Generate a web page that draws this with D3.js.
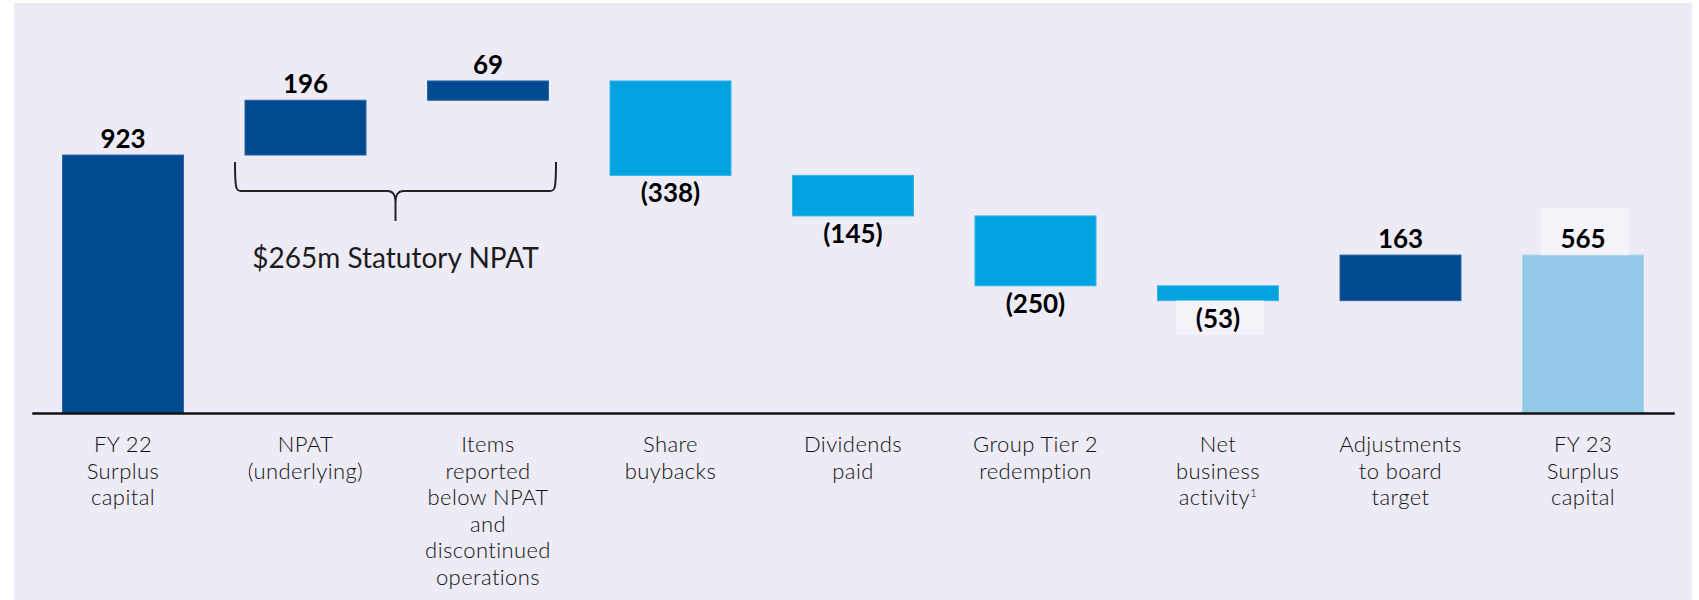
<!DOCTYPE html>
<html>
<head>
<meta charset="utf-8">
<script src="https://cdn.jsdelivr.net/npm/d3@7"></script>
<style>
  html, body { margin: 0; padding: 0; background: #ffffff; }
  svg { display: block; }
</style>
</head>
<body>
<svg id="chart" width="1699" height="600"></svg>
<script>
// Surplus capital bridge, FY22 to FY23 ($m)
const categories = [
  "FY22 Surplus capital", "NPAT (underlying)", "Items reported below NPAT and discontinued operations",
  "Share buybacks", "Dividends paid", "Group Tier 2 redemption",
  "Net business activity", "Adjustments to board target", "FY23 Surplus capital"
];
const categoryLines = [
  ["FY 22", "Surplus", "capital"],
  ["NPAT", "(underlying)"],
  ["Items", "reported", "below NPAT", "and", "discontinued", "operations"],
  ["Share", "buybacks"],
  ["Dividends", "paid"],
  ["Group Tier 2", "redemption"],
  ["Net", "business", "activity"],
  ["Adjustments", "to board", "target"],
  ["FY 23", "Surplus", "capital"]
];
const footnoteMarks = ["", "", "", "", "", "", "1", "", ""];
const values = [923, 196, 69, -338, -145, -250, -53, 163, 565];
const kinds = ["start", "up", "up", "down", "down", "down", "down", "up", "end"];
const valueLabels = ["923", "196", "69", "(338)", "(145)", "(250)", "(53)", "163", "565"];
const labelBoxed = [false, false, false, false, false, false, true, false, true];
const braceNote = "$265m Statutory NPAT";

const colors = { start: "#014a8f", up: "#014a8f", down: "#00a3e0", end: "#92c9e6" };
const strokes = { start: "#2a66a6", up: "#2a66a6", down: "#35b5e6", end: "#a8d4ec" };

// running totals for the floating bars
let run = 0;
const bars = values.map((v, i) => {
  let lo, hi;
  if (kinds[i] === "start" || kinds[i] === "end") { lo = 0; hi = v; run = v; }
  else { const prev = run; run = prev + v; lo = Math.min(prev, run); hi = Math.max(prev, run); }
  return { i, cat: categories[i], v, lo, hi, kind: kinds[i] };
});

const svg = d3.select("#chart");

// panel background
svg.append("rect").attr("x", 14).attr("y", 3).attr("width", 1678).attr("height", 597)
  .attr("fill", "#edebf5");

const x = d3.scaleBand().domain(categories).range([31.75, 1674.25])
  .paddingInner(0.337).paddingOuter(0.1685);
const y = d3.scaleLinear().domain([0, 1200]).range([413, 77.6]);

// bars
svg.append("g").selectAll("rect").data(bars).join("rect")
  .attr("x", d => x(d.cat))
  .attr("width", x.bandwidth())
  .attr("y", d => y(d.hi))
  .attr("height", d => y(d.lo) - y(d.hi))
  .attr("fill", d => colors[d.kind])
  .attr("stroke", d => strokes[d.kind])
  .attr("stroke-width", 1);

// axis baseline with multi-line category labels
const axis = svg.append("g").attr("transform", `translate(0,${y(0)})`)
  .call(d3.axisBottom(x).tickSize(0).tickSizeOuter(0).tickFormat(""));
axis.select(".domain").attr("stroke", "#111").attr("stroke-width", 2.6);
axis.selectAll(".tick text").remove();
axis.selectAll(".tick").each(function(d, i) {
  const t = d3.select(this).append("text")
    .attr("text-anchor", "middle")
    .attr("font-family", "Lato, 'Open Sans', sans-serif")
    .attr("font-weight", 300)
    .attr("font-size", 22)
    .attr("letter-spacing", 0.4)
    .attr("fill", "#111");
  categoryLines[i].forEach((line, k) => {
    t.append("tspan").attr("x", 0).attr("y", 39 + k * 26.5).text(line);
    if (k === categoryLines[i].length - 1 && footnoteMarks[i]) {
      t.append("tspan").attr("dy", -8).attr("font-size", 12).text(footnoteMarks[i]);
    }
  });
});

// value labels
const labelG = svg.append("g");
bars.forEach((d, i) => {
  const cx = x(d.cat) + x.bandwidth() / 2;
  const above = d.v >= 0;
  const baseY = above ? y(d.hi) - 7 : y(d.lo) + 27;
  const g = labelG.append("g");
  const t = g.append("text")
    .attr("x", cx).attr("y", baseY)
    .attr("text-anchor", "middle")
    .attr("font-family", "Lato, 'Open Sans', sans-serif")
    .attr("font-weight", 700)
    .attr("font-size", 26)
    .attr("fill", "#000")
    .text(valueLabels[i]);
  if (labelBoxed[i]) {
    const w = 88;
    const top = above ? baseY - 40 : y(d.lo);
    const bottom = above ? y(d.hi) : baseY + 7;
    g.insert("rect", "text")
      .attr("x", cx - w / 2 + 2).attr("y", top)
      .attr("width", w).attr("height", bottom - top)
      .attr("fill", "#f4f3f9");
  }
});

// curly brace grouping the two NPAT bars
const bl = x(categories[1]) - 10;
const br = x(categories[2]) + x.bandwidth() + 7.5;
const bc = (bl + br) / 2;
const bTop = 162, bMid = 191, bTip = 221;
const brace = d3.path();
brace.moveTo(bl, bTop);
brace.bezierCurveTo(bl, bMid - 2, bl + 1, bMid, bl + 6, bMid);
brace.lineTo(bc - 8, bMid);
brace.bezierCurveTo(bc - 2, bMid, bc, bMid + 4, bc, bMid + 12);
brace.lineTo(bc, bTip);
brace.moveTo(bc, bMid + 12);
brace.bezierCurveTo(bc, bMid + 4, bc + 2, bMid, bc + 8, bMid);
brace.lineTo(br - 6, bMid);
brace.bezierCurveTo(br - 1, bMid, br, bMid - 2, br, bTop);
svg.append("path").attr("d", brace.toString())
  .attr("fill", "none").attr("stroke", "#222").attr("stroke-width", 2);

svg.append("text")
  .attr("x", bc).attr("y", 268)
  .attr("text-anchor", "middle")
  .attr("font-family", "Lato, 'Open Sans', sans-serif")
  .attr("font-size", 28)
  .attr("fill", "#1c1c1c")
  .text(braceNote);
</script>
</body>
</html>
